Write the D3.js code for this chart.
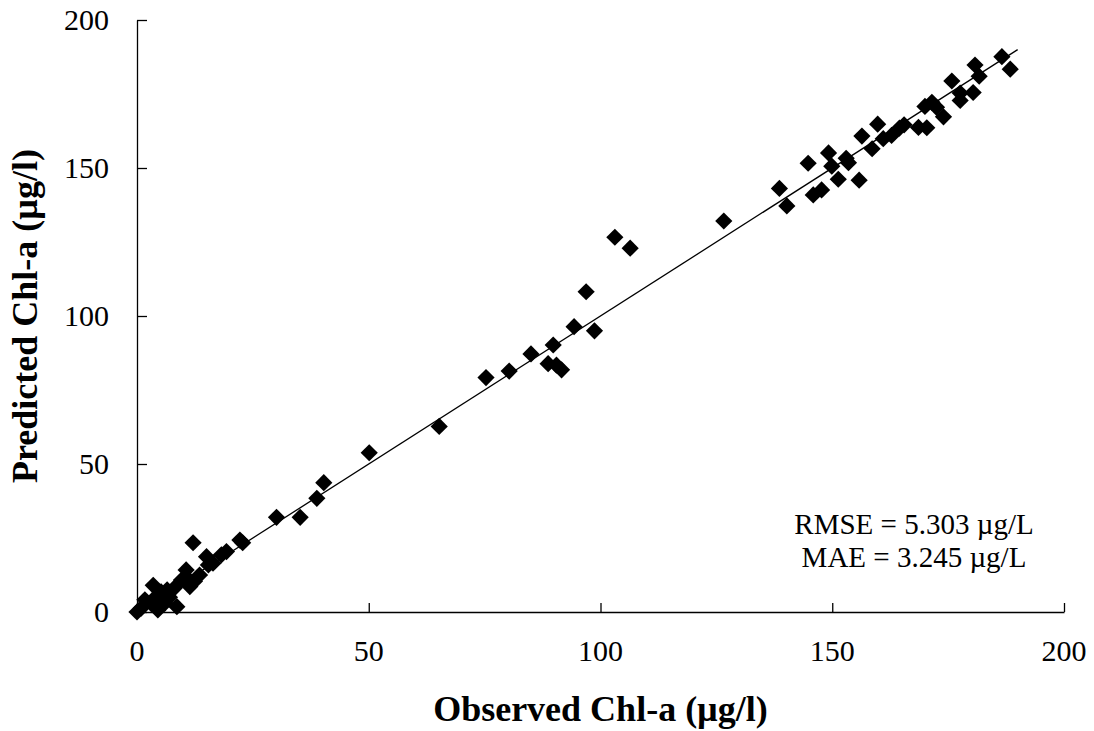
<!DOCTYPE html>
<html>
<head>
<meta charset="utf-8">
<script src="https://cdn.jsdelivr.net/npm/d3@7"></script>
<style>
  html, body { margin: 0; padding: 0; background: #fff; }
  svg text { font-family: "Liberation Serif", "Times New Roman", serif; fill: #000; }
</style>
</head>
<body>
<svg id="chart" width="1094" height="731"></svg>
<script>
// Observed vs. predicted chlorophyll-a (µg/l)
const observed = [
  0, 0.9, 1.7, 3.5, 4.5, 5.2, 3, 4, 5.5, 6, 7, 8.6, 6.5, 8, 9.6, 10.6, 11.4, 10.8, 12.4, 13.5,
  12.1, 15, 16.4, 15.4, 18.2, 19.3, 22.2, 22.8,
  30.1, 35.2, 38.8, 40.3, 50.1, 65.2, 75.3, 80.3, 85, 88.7, 89.8, 90.5, 91.6, 94.3, 98.7, 96.9,
  103.1, 106.4, 126.6,
  138.6, 140.2, 144.8, 145.9, 147.7, 149.2, 149.9, 151.3, 153.0, 153.5, 155.8, 156.4, 158.6,
  159.8, 161, 162.8, 164.5, 165.5, 168.6, 170.4, 170, 171.5, 172.5, 174, 175.8, 177.6, 177.6,
  180.4, 180.8, 181.7, 186.6, 188.4
];
const predicted = [
  0, 1.3, 4.1, 9, 0.7, 6.8, 3, 5, 4, 3, 5, 1.8, 7.5, 8, 10.8, 14.2, 8.6, 11.5, 10.4, 12.5,
  23.4, 18.7, 16.5, 15.9, 19.3, 20.4, 24.3, 23.4,
  32, 32, 38.4, 43.7, 53.8, 62.7, 79.2, 81.4, 87.2, 83.9, 90.2, 83.4, 81.8, 96.4, 95, 108.2,
  126.6, 122.9, 132.1,
  143.1, 137.2, 151.6, 140.9, 142.6, 155.1, 150.6, 146.2, 153.3, 151.8, 145.9, 160.8, 156.5,
  164.8, 159.9, 161, 163.5, 164.6, 163.7, 163.6, 170.8, 172.2, 170.5, 167.3, 179.4, 175.3, 172.8,
  175.5, 184.8, 181, 187.6, 183.4
];
const xTicks = [0, 50, 100, 150, 200];
const yTicks = [0, 50, 100, 150, 200];
const fitLine = [[0, 0], [190, 190]];
const statLines = ["RMSE = 5.303 \u00b5g/L", "MAE = 3.245 \u00b5g/L"];

const svg = d3.select("#chart");
const m = { left: 137, right: 1064, top: 20, bottom: 612 };

const x = d3.scaleLinear().domain([0, 200]).range([m.left, m.right]);
const y = d3.scaleLinear().domain([0, 200]).range([m.bottom, m.top]);

// axes with inward ticks
const xAxis = svg.append("g")
  .attr("transform", `translate(0,${m.bottom})`)
  .call(d3.axisBottom(x).tickValues(xTicks).tickSize(-9).tickSizeOuter(0));
xAxis.selectAll("text").remove();
const yAxis = svg.append("g")
  .attr("transform", `translate(${m.left},0)`)
  .call(d3.axisLeft(y).tickValues(yTicks).tickSize(-10).tickSizeOuter(0));
yAxis.selectAll("text").remove();
svg.selectAll(".domain, .tick line").attr("stroke", "#000").attr("stroke-width", 1.3);

svg.append("g").selectAll("text").data(xTicks).join("text")
  .attr("x", d => x(d)).attr("y", 661)
  .attr("text-anchor", "middle").attr("font-size", 30)
  .text(d => d);
svg.append("g").selectAll("text").data(yTicks).join("text")
  .attr("x", m.left - 28).attr("y", d => y(d) + 10)
  .attr("text-anchor", "end").attr("font-size", 30)
  .text(d => d);

// 1:1 fit line
svg.append("path")
  .datum(fitLine)
  .attr("d", d3.line().x(d => x(d[0])).y(d => y(d[1])))
  .attr("stroke", "#000").attr("stroke-width", 1.3).attr("fill", "none");

// diamond markers
const r = 8.6;
svg.append("g").selectAll("path").data(observed.map((o, i) => [o, predicted[i]])).join("path")
  .attr("transform", d => `translate(${x(d[0])},${y(d[1])})`)
  .attr("d", `M0,${-r}L${r},0L0,${r}L${-r},0Z`)
  .attr("fill", "#000");

// axis titles
svg.append("text")
  .attr("x", (m.left + m.right) / 2).attr("y", 721)
  .attr("text-anchor", "middle").attr("font-size", 36).attr("font-weight", "bold")
  .text("Observed Chl-a (\u00b5g/l)");
svg.append("text")
  .attr("transform", `translate(37,${(m.top + m.bottom) / 2}) rotate(-90)`)
  .attr("text-anchor", "middle").attr("font-size", 36).attr("font-weight", "bold")
  .text("Predicted Chl-a (\u00b5g/l)");

// error statistics
svg.append("g").selectAll("text").data(statLines).join("text")
  .attr("x", 914).attr("y", (d, i) => 534 + i * 33)
  .attr("text-anchor", "middle").attr("font-size", 29)
  .text(d => d);
</script>
</body>
</html>
